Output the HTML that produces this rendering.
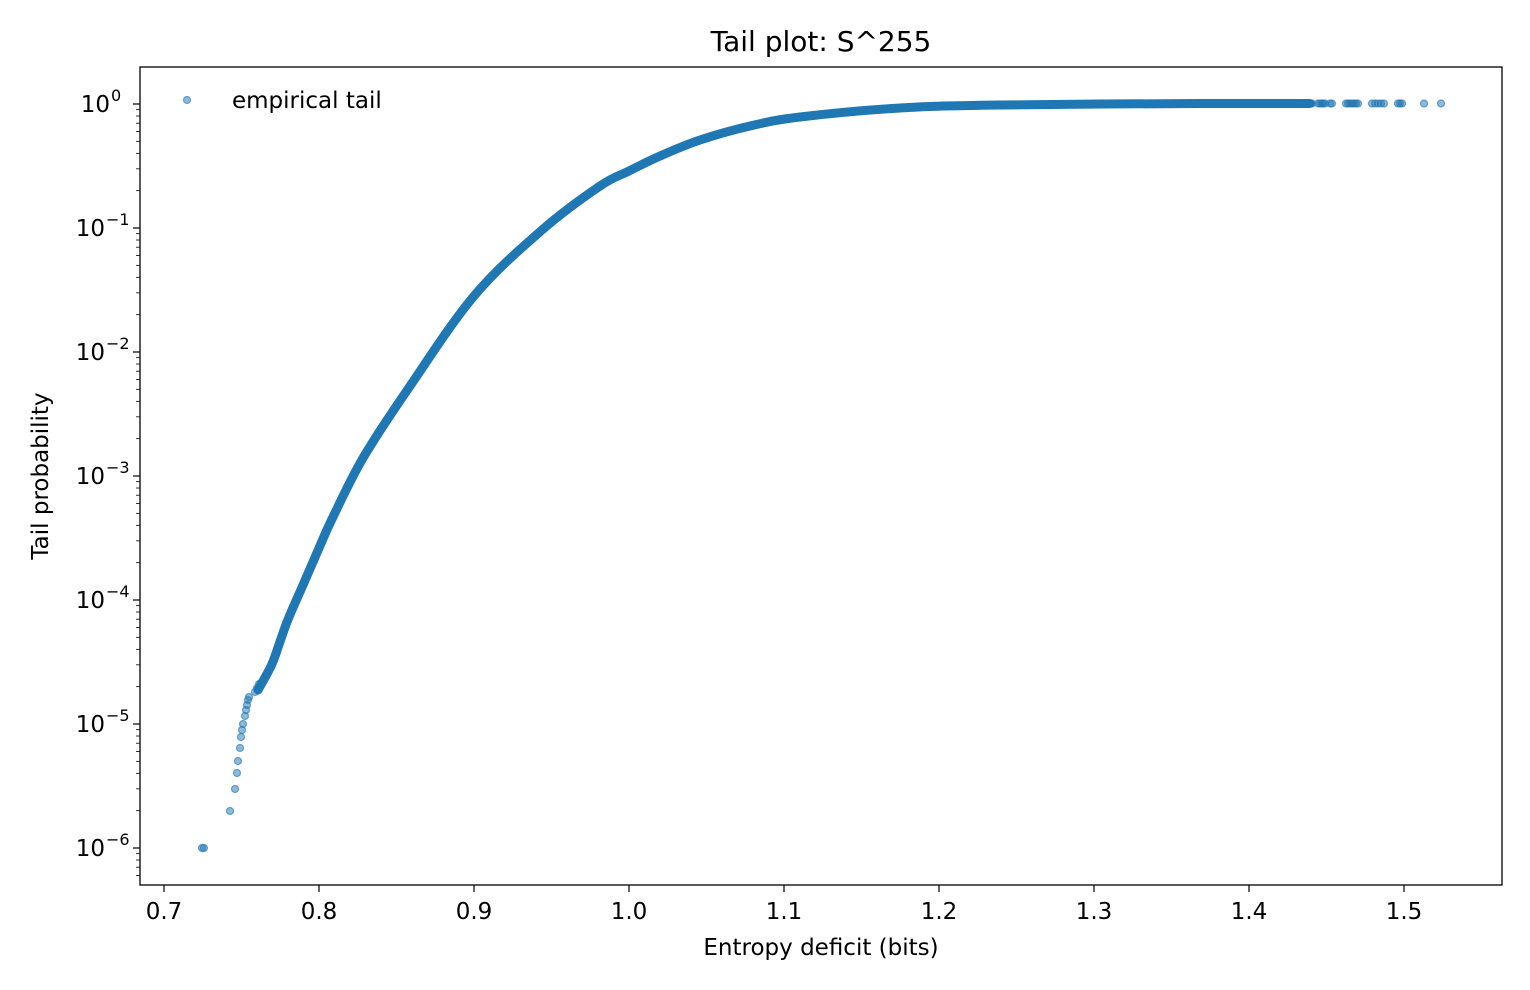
<!DOCTYPE html>
<html><head><meta charset="utf-8"><style>body{margin:0;background:#fff}svg{display:block;font-family:"DejaVu Sans","Liberation Sans",sans-serif}</style></head>
<body>
<svg id="s" width="1530" height="990" xmlns="http://www.w3.org/2000/svg">
<rect width="1530" height="990" fill="#fff"/>
<text x="821" y="51" font-size="28" text-anchor="middle" fill="#000">Tail plot: S^255</text>
<g id="plot"></g>
<rect x="140" y="67" width="1362" height="818" fill="none" stroke="#000" stroke-width="1.3"/>
<g id="ax" font-size="23" fill="#000"></g>
<text x="821" y="955" font-size="23" text-anchor="middle">Entropy deficit (bits)</text>
<text transform="translate(48,476) rotate(-90)" font-size="23" text-anchor="middle">Tail probability</text>
<circle cx="187" cy="100" r="3.5" fill="rgba(31,119,180,0.5)" stroke="rgba(31,119,180,0.6)" stroke-width="1.3"/>
<text x="232" y="108" font-size="23">empirical tail</text>
</svg>
<script>
const NS="http://www.w3.org/2000/svg";
function el(t,a,p){const e=document.createElementNS(NS,t);for(const k in a)e.setAttribute(k,a[k]);p.appendChild(e);return e;}
const ax=document.getElementById('ax'),pl=document.getElementById('plot');
for(let i=0;i<=8;i++){const v=0.7+i*0.1,x=164+i*155;
 el('line',{x1:x,y1:885,x2:x,y2:892,stroke:'#000','stroke-width':1.2},ax);
 const t=el('text',{x:x,y:919,'text-anchor':'middle'},ax);t.textContent=v.toFixed(1);}
for(let k=0;k<=6;k++){const y=104+124*k;
 el('line',{x1:133,y1:y,x2:140,y2:y,stroke:'#000','stroke-width':1.2},ax);
 const t=el('text',{x:k==0?110:105,y:y+8,'text-anchor':'end'},ax);t.textContent='10';
 const s=el('text',{x:k==0?111:106,y:y-3,'font-size':16},ax);s.textContent=k==0?'0':'−'+k;
 for(let m=2;m<=9;m++){const yy=y+124-124*Math.log10(m);if(yy<885)el('line',{x1:136,y1:yy,x2:140,y2:yy,stroke:'#000','stroke-width':0.8},ax);}
}
const C='rgba(31,119,180,0.5)',E='rgba(31,119,180,0.6)';
function dot(x,y){el('circle',{cx:x,cy:y,r:3.5,fill:C,stroke:E,'stroke-width':1.3},pl);}
[[202,848],[204,848],[230,811],[235,789],[237,773],[238,761],[240,748],[241,737],[242,730],[243,724],[245,716],[246,710],[247,705],[248,700],[249,697],[255,692],[257,688],[259,684]].forEach(p=>dot(p[0],p[1]));
const pts=[[258,690],[268,672],[274,659],[287,622],[303,585],[318.6,549],[332,519],[363,458],[408,389],[474,296],[542,230],[600,186],[629,171],[660,156],[700,140],[750,126],[800,117],[900,108],[1000,105],[1200,103.5],[1310,103.5]];
let d='M'+pts[0].join(',');
for(let i=0;i<pts.length-1;i++){const p0=pts[Math.max(0,i-1)],p1=pts[i],p2=pts[i+1],p3=pts[Math.min(pts.length-1,i+2)];
 d+=` C${p1[0]+(p2[0]-p0[0])/6},${p1[1]+(p2[1]-p0[1])/6} ${p2[0]-(p3[0]-p1[0])/6},${p2[1]-(p3[1]-p1[1])/6} ${p2[0]},${p2[1]}`;}
el('path',{d:d,fill:'none',stroke:'#1f77b4','stroke-width':9,'stroke-linejoin':'round','stroke-linecap':'round'},pl);
[1312,1318,1320,1322,1323,1325,1330,1332,1346,1348,1350,1352,1354,1356,1358,1372,1375,1378,1381,1384,1398,1400,1402,1424,1441].forEach(x=>dot(x,103.5));
</script>
</body></html>
